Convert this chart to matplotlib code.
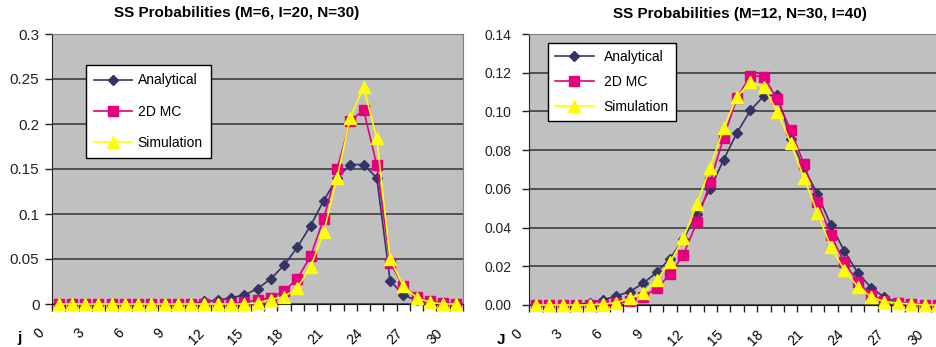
import numpy as np
import matplotlib.pyplot as plt
from matplotlib.transforms import ScaledTranslation

# j = 0..30 (steady-state number in system)
j = np.arange(31)
j_ticks = np.arange(0, 31, 3)

# left chart: M=6, I=20, N=30
analytical_1 = [0, 0, 0, 0, 0, 0, 0, 0, 0, 0, 0,
                0.003, 0.004, 0.007, 0.010, 0.017, 0.028, 0.043, 0.063, 0.087, 0.115,
                0.140, 0.155, 0.155, 0.140, 0.026, 0.010, 0.004, 0.001, 0, 0]
mc_1 = [0, 0, 0, 0, 0, 0, 0, 0, 0, 0, 0, 0, 0, 0,
        0.002, 0.004, 0.007, 0.014, 0.028, 0.053, 0.095, 0.150, 0.203, 0.216,
        0.154, 0.046, 0.020, 0.008, 0.003, 0.001, 0]
sim_1 = [0, 0, 0, 0, 0, 0, 0, 0, 0, 0, 0, 0, 0, 0, 0,
         0.001, 0.005, 0.008, 0.018, 0.041, 0.080, 0.140, 0.207, 0.241, 0.184,
         0.050, 0.020, 0.007, 0.002, 0, 0]

# right chart: M=12, N=30, I=40
analytical_2 = [0, 0, 0, 0,
                0.0012, 0.0026, 0.0047, 0.0069, 0.0112, 0.0169, 0.024, 0.034, 0.047,
                0.060, 0.075, 0.089, 0.1005, 0.108, 0.1085, 0.086, 0.0706, 0.0575,
                0.0413, 0.028, 0.0167, 0.009, 0.004, 0.0015, 0.0007, 0, 0]
mc_2 = [0, 0, 0, 0, 0, 0,
        0.0009, 0.002, 0.0043, 0.0086, 0.0158, 0.026, 0.0427, 0.0635, 0.0865,
        0.107, 0.1185, 0.118, 0.1063, 0.0904, 0.0728, 0.0534, 0.0362, 0.0221,
        0.0121, 0.0052, 0.0022, 0.0009, 0.0005, 0, 0]
sim_2 = [0, 0, 0, 0, 0,
         0.0005, 0.0012, 0.0034, 0.006, 0.0129, 0.022, 0.0345, 0.052, 0.071,
         0.0913, 0.1075, 0.1152, 0.1125, 0.0999, 0.0839, 0.0655, 0.0477, 0.0301,
         0.0181, 0.0095, 0.0043, 0.0017, 0.001, 0.0005, 0, 0]

series_names = ['Analytical', '2D MC', 'Simulation']
navy = '#333366'
magenta = '#E6007E'
yellow = '#FFFF00'

plt.rcParams['font.family'] = ['Liberation Sans', 'DejaVu Sans']

fig = plt.figure(figsize=(9.36, 3.47), dpi=100)
ax1 = fig.add_axes([52 / 936, 43 / 347, 411 / 936, 270 / 347])
ax2 = fig.add_axes([529.3 / 936, 42 / 347, 415.4 / 936, 271 / 347])


def draw_panel(ax, a, m, s, ymax, ystep, fmt, ysize, ypad):
    ax.set_facecolor('#C0C0C0')
    ax.plot(j, a, color=navy, lw=1.2, marker='D', ms=5, mec=navy, mfc=navy,
            label=series_names[0], clip_on=False, zorder=3)
    ax.plot(j, m, color=magenta, lw=1.2, marker='s', ms=7, mec=magenta, mfc=magenta,
            label=series_names[1], clip_on=False, zorder=4)
    ax.plot(j, s, color=yellow, lw=1.2, marker='^', ms=8.5, mec=yellow, mfc=yellow,
            label=series_names[2], clip_on=False, zorder=5)

    ax.set_xlim(-0.5, 30.5)
    ax.set_ylim(0, ymax)
    yt = np.arange(0, ymax + ystep / 2, ystep)
    ax.set_yticks(yt)
    ax.set_yticklabels([fmt(v) for v in yt], fontsize=ysize)
    ax.yaxis.grid(True, color='#333333', lw=1.1)
    ax.set_axisbelow(True)
    ax.tick_params(axis='y', direction='out', length=5, width=1, pad=ypad, colors='#222222')

    ax.set_xticks(j_ticks)
    ax.set_xticklabels([str(v) for v in j_ticks], fontsize=10, rotation=45,
                       ha='right', va='top', rotation_mode='anchor')
    ax.set_xticks(np.arange(-0.5, 31, 1), minor=True)
    ax.tick_params(axis='x', which='major', length=0, pad=16)
    ax.tick_params(axis='x', which='minor', direction='out', length=5, width=1, color='#222222')
    # excel puts the slanted labels a bit left of their category
    shift = ScaledTranslation(-21 / 100, 0, fig.dpi_scale_trans)
    for lab in ax.get_xticklabels():
        lab.set_transform(lab.get_transform() + shift)

    ax.spines['left'].set_color('#222222')
    ax.spines['bottom'].set_color('#111111')
    ax.spines['top'].set_color('#808080')
    ax.spines['right'].set_color('#808080')


draw_panel(ax1, analytical_1, mc_1, sim_1, 0.3, 0.05,
           lambda v: '0' if v == 0 else f'{v:g}', 11, 4)
draw_panel(ax2, analytical_2, mc_2, sim_2, 0.14, 0.02,
           lambda v: f'{v:.2f}', 10, 8)

leg1 = ax1.legend(loc='upper left', bbox_to_anchor=(0.083, 0.885), borderaxespad=0,
                  fontsize=10, frameon=True, fancybox=False, framealpha=1,
                  edgecolor='black', handlelength=2.7, handletextpad=0.4,
                  labelspacing=1.25, borderpad=0.6)
leg1.get_frame().set_linewidth(1.0)
leg2 = ax2.legend(loc='upper left', bbox_to_anchor=(0.045, 0.967), borderaxespad=0,
                  fontsize=10, frameon=True, fancybox=False, framealpha=1,
                  edgecolor='black', handlelength=2.8, handletextpad=0.7,
                  labelspacing=0.8, borderpad=0.5)
leg2.get_frame().set_linewidth(1.0)

fig.text(237 / 936, 1 - 13 / 347, 'SS Probabilities (M=6, I=20, N=30)',
         ha='center', va='center', fontsize=11, fontweight='bold')
fig.text(740 / 936, 1 - 14 / 347, 'SS Probabilities (M=12, N=30, I=40)',
         ha='center', va='center', fontsize=11, fontweight='bold')
fig.text(19 / 936, 1 - 338 / 347, 'j', ha='center', va='center', fontsize=11, fontweight='bold')
fig.text(501 / 936, 1 - 340 / 347, 'J', ha='center', va='center', fontsize=11, fontweight='bold')

fig.savefig('out.png', dpi=100)
